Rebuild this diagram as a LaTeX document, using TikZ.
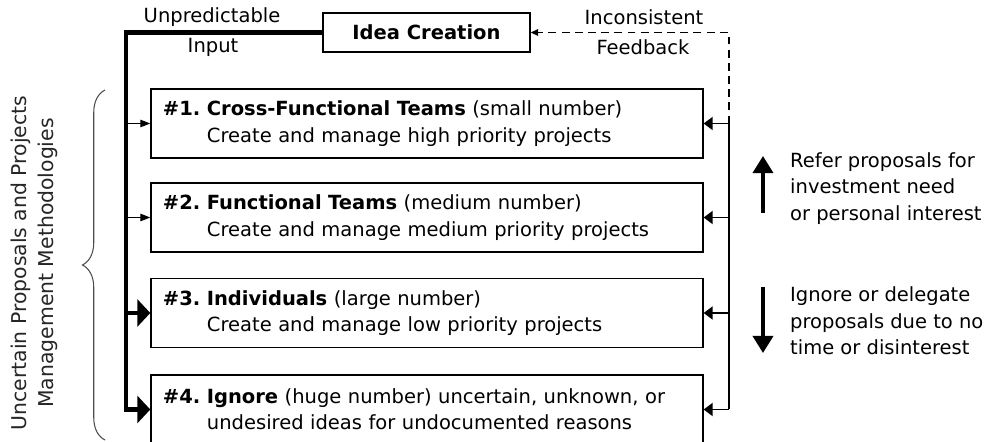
\documentclass[tikz,border=0pt]{standalone}
\usepackage{fontspec}
\setmainfont{DejaVu Sans}
\usetikzlibrary{arrows.meta,decorations.pathreplacing}

\begin{document}
\begin{tikzpicture}[scale=0.2]
\tikzstyle{every node}+=[font=\fontsize{11.1}{15}\selectfont\frenchspacing]
\tikzstyle{stage}=[draw, line width=0.8pt, minimum width=11.04cm, minimum height=1.38cm, text width=10.56cm, inner xsep=0.24cm, align=left]
\tikzstyle{heavy}=[line width=2.8pt]
\tikzstyle{heavyarrow}=[heavy, -{Triangle[length=0.26cm,width=0.54cm]}]
\tikzstyle{lightarrow}=[line width=0.7pt, -{Triangle[length=0.2cm,width=0.15cm]}]
\tikzstyle{backarrow}=[line width=1.1pt, -{Triangle[length=0.18cm,width=0.26cm]}]
\tikzstyle{trend}=[line width=2pt, -{Triangle[length=0.34cm,width=0.4cm]}]
\useasboundingbox (0,0) rectangle (99.5,-44.2);
\node [draw, line width=0.8pt, minimum width=4.14cm, minimum height=0.78cm, font=\fontsize{11.1}{15}\selectfont\bfseries] (idea) at (42.65,-3.25) {Idea Creation};
\node (unpred) at (21.2,-1.7) {Unpredictable};
\node (input) at (21.3,-4.7) {Input};
\node (incons) at (64.4,-1.7) {Inconsistent};
\node (feedb) at (64.3,-4.7) {Feedback};
\node [stage] (cft) at (42.7,-12.35) {{\bfseries \#1. Cross-Functional Teams} (small number)\\\hspace*{0.88cm}Create and manage high priority projects};
\node [stage] (ft) at (42.7,-21.75) {{\bfseries \#2. Functional Teams} (medium number)\\\hspace*{0.88cm}Create and manage medium priority projects};
\node [stage] (ind) at (42.7,-31.3) {{\bfseries \#3. Individuals} (large number)\\\hspace*{0.88cm}Create and manage low priority projects};
\node [stage] (ign) at (42.7,-40.95) {{\bfseries \#4. Ignore} (huge number) uncertain, unknown, or\\\hspace*{0.88cm}undesired ideas for undocumented reasons};
\coordinate (tl) at (12.6,-3.25);
\coordinate (tr) at (72.9,-3.25);
\draw [heavyarrow] (idea.west) -- (tl) |- (ign.west);
\draw [lightarrow] (tl |- cft.west) -- (cft.west);
\draw [lightarrow] (tl |- ft.west) -- (ft.west);
\draw [heavyarrow] (tl |- ind.west) -- (ind.west);
\draw [dashed, line width=1.1pt, dash pattern=on 4.5pt off 3pt, -{Triangle[length=0.15cm,width=0.13cm]}] (tr |- cft.east) -- (tr) -- (idea.east);
\draw [line width=1.1pt] (tr |- cft.east) -- (tr |- ign.east);
\draw [backarrow] (tr |- cft.east) -- (cft.east);
\draw [backarrow] (tr |- ft.east) -- (ft.east);
\draw [backarrow] (tr |- ind.east) -- (ind.east);
\draw [backarrow] (tr |- ign.east) -- (ign.east);
\coordinate (up1) at (76.3,-21.3);
\coordinate (up2) at (76.3,-15.6);
\coordinate (dn1) at (76.3,-28.7);
\coordinate (dn2) at (76.3,-35.3);
\draw [trend] (up1) -- (up2);
\draw [trend] (dn1) -- (dn2);
\node [anchor=west, align=left] (refer) at (78.4,-18.85) {Refer proposals for\\investment need\\or personal interest};
\node [anchor=west, align=left] (delegate) at (78.4,-32.1) {Ignore or delegate\\proposals due to no\\time or disinterest};
\draw [black!70, line width=0.6pt, decorate, decoration={brace, amplitude=0.45cm}] (10.5,-44.0) -- (10.5,-9.0);
\node [rotate=90, align=center, text=black!85, font=\fontsize{11.6}{15.5}\selectfont] (method) at (3.4,-26.3) {Uncertain Proposals and Projects\\Management Methodologies};
\end{tikzpicture}
\end{document}
